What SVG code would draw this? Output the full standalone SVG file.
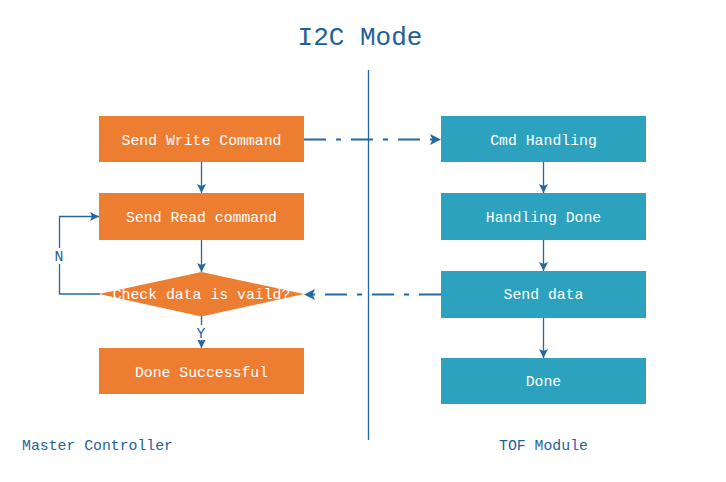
<svg xmlns="http://www.w3.org/2000/svg" width="726" height="482" viewBox="0 0 726 482">
<style>
.o{fill:#ED7D31}
.t{fill:#2CA2BE}
.bt{font-family:"Liberation Mono",monospace;font-size:14.8px;fill:#fff;text-anchor:middle}
.lb{font-family:"Liberation Mono",monospace;font-size:14.8px;fill:#1F5F96}
.ln{stroke:#2468A2;stroke-width:1.3;fill:none}
.dd{stroke:#2468A2;stroke-width:2.2;fill:none;stroke-dasharray:22 10 5 10}
</style>
<defs>
<marker id="ah" markerWidth="10" markerHeight="10" refX="9" refY="5" orient="auto" markerUnits="userSpaceOnUse">
<path d="M0,0.5 L9,5 L0,9.5 L2,5 Z" fill="#2468A2"/>
</marker>
<marker id="ahb" markerWidth="12" markerHeight="12" refX="11" refY="6" orient="auto" markerUnits="userSpaceOnUse">
<path d="M0,0.5 L11,6 L0,11.5 L2.5,6 Z" fill="#2468A2"/>
</marker>
</defs>
<rect width="726" height="482" fill="#fff"/>
<text x="360" y="45" font-family="Liberation Mono, monospace" font-size="26" fill="#1F5F96" text-anchor="middle">I2C Mode</text>
<line x1="368.5" y1="70" x2="368.5" y2="440" stroke="#2468A2" stroke-width="1.3"/>
<g id="connectors">
<line class="ln" x1="201.5" y1="162" x2="201.5" y2="193" marker-end="url(#ah)"/>
<line class="ln" x1="201.5" y1="240" x2="201.5" y2="272" marker-end="url(#ah)"/>
<line class="ln" x1="201.5" y1="316" x2="201.5" y2="348" marker-end="url(#ah)"/>
<polyline class="ln" points="100,294 59.5,294 59.5,216.5 99,216.5" marker-end="url(#ah)"/>
<line class="ln" x1="543.5" y1="162" x2="543.5" y2="193" marker-end="url(#ah)"/>
<line class="ln" x1="543.5" y1="240" x2="543.5" y2="271" marker-end="url(#ah)"/>
<line class="ln" x1="543.5" y1="318" x2="543.5" y2="358" marker-end="url(#ah)"/>
<line class="dd" x1="304" y1="139.5" x2="441" y2="139.5" marker-end="url(#ahb)"/>
<line class="dd" x1="441" y1="294.5" x2="304" y2="294.5" stroke-dashoffset="0" marker-end="url(#ahb)"/>
<rect x="52" y="248" width="14" height="16" fill="#fff"/>
<text class="lb" x="59" y="261" text-anchor="middle">N</text>
<rect x="194" y="325" width="14" height="15" fill="#fff"/>
<text class="lb" x="201" y="338" text-anchor="middle">Y</text>
</g>
<g id="send-write"><rect class="o" x="99" y="116" width="205" height="46"/><text class="bt" x="201.5" y="145">Send Write Command</text></g>
<g id="send-read"><rect class="o" x="99" y="193" width="205" height="47"/><text class="bt" x="201.5" y="222">Send Read command</text></g>
<g id="check"><polygon class="o" points="201.5,272 304,294 201.5,316.5 99,294"/><text class="bt" x="201.5" y="299">Check data is vaild?</text></g>
<g id="done-successful"><rect class="o" x="99" y="348" width="205" height="46"/><text class="bt" x="201.5" y="377">Done Successful</text></g>
<g id="cmd-handling"><rect class="t" x="441" y="116" width="205" height="46"/><text class="bt" x="543.5" y="145">Cmd Handling</text></g>
<g id="handling-done"><rect class="t" x="441" y="193" width="205" height="47"/><text class="bt" x="543.5" y="222">Handling Done</text></g>
<g id="send-data"><rect class="t" x="441" y="271" width="205" height="47"/><text class="bt" x="543.5" y="299">Send data</text></g>
<g id="done"><rect class="t" x="441" y="358" width="205" height="46"/><text class="bt" x="543.5" y="386">Done</text></g>
<text class="lb" x="22" y="450">Master Controller</text>
<text class="lb" x="543.5" y="450" text-anchor="middle">TOF Module</text>
</svg>
